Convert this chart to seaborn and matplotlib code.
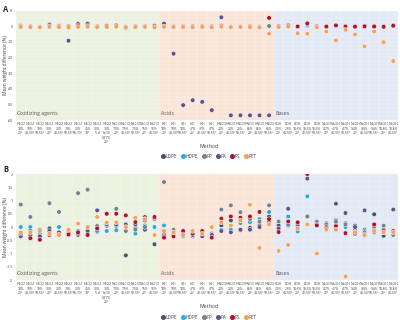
import numpy as np
import pandas as pd
import matplotlib
matplotlib.use('Agg')  # no display
import matplotlib.pyplot as plt
from matplotlib.lines import Line2D
import seaborn as sns

# --- methods (x categories) ---
methods = [
    "H2O2\n10%\n20°", "H2O2\n10%\n40-50°", "H2O2\n10%\n50-55°", "H2O2\n30%\n20°",
    "H2O2\n30%\n40-50°", "H2O2\n30%\n50-55°", "H2O2\n30%\n60-70°", "H2O2\n35%\n70°",
    "H2O2\n30%\n5 d", "H2O2\n30%\nFe(II)\n0.17%\n20°",
    "NaClO\n7.5%\n20°", "NaClO\n7.5%\n40-50°", "NaClO\n7.5%\n50-55°", "NaClO\n15%\n20°",
    "NaClO\n15%\n40-50°",
    "HCl\n10%\n20°", "HCl\n10%\n40-50°", "HCl\n10%\n50-55°", "HCl\n37%\n20°",
    "HCl\n37%\n40-50°", "HCl\n37%\n50-55°", "HNO3\n20%\n20°", "HNO3\n20%\n40-50°",
    "HNO3\n20%\n50-55°", "HNO3\n65%\n20°", "HNO3\n65%\n40-50°", "HNO3\n65%\n50-55°",
    "KOH\n2.5%\n20°", "KOH\n2.5%\n40-50°", "KOH\n10.6%\n20°", "KOH\n10.6%\n40-50°",
    "KOH\n10.6%\n50-55°", "NaOH\n4.7%\n20°", "NaOH\n4.7%\n40-50°", "NaOH\n4.7%\n50-55°",
    "NaOH\n9.4%\n20°", "NaOH\n9.4%\n40-50°", "NaOH\n9.4%\n50-55°", "NaOH\n18.8%\n20°",
    "NaOH\n18.8%\n40-50°",
]
group_names = ["Oxidizing agents", "Acids", "Bases"]
group_sizes = [15, 12, 13]
group_colors = ["#ebf1df", "#fae4d8", "#e2e9f4"]

polymers = ["LDPE", "HDPE", "PP", "PA", "PS", "PET"]
poly_colors = ["#44546a", "#2aa9dc", "#76828f", "#5f5290", "#b3102c", "#f4a25a"]

# --- panel A: mean weight difference (%) ---
a_ldpe = [-0.2, -0.3, -0.5, 0.2, -0.2, -0.4, 0.4, 0.3, -0.3, -0.1, 0.2, -1.2, -0.3, -0.2, -0.2,
          0.3, -0.3, -0.2, -0.3, -0.2, -0.3, 0.1, -0.4, -0.3, -0.2, -0.4, 0.0,
          -0.2, 0.3, -0.3, 0.5, -0.2, -0.3, 0.2, -0.2, -0.3, -0.2, -0.3, -0.3, 0.2]
a_hdpe = [-0.1, -0.2, -0.4, 0.1, -0.1, -0.3, 0.2, 0.2, -0.2, 0.0, 0.1, -0.5, -0.2, -0.1, -0.3,
          0.2, -0.2, -0.1, -0.2, -0.1, -0.2, 0.0, -0.3, -0.2, -0.1, -0.3, 0.2,
          -0.1, 0.2, -0.2, 0.3, -0.1, -0.2, 0.1, -0.1, -0.2, -0.1, -0.2, -0.2, 0.1]
a_pp = [-0.3, -0.3, -0.6, 0.3, -0.3, -0.5, 0.6, 0.5, -0.4, -0.2, 0.3, -0.6, -0.4, -0.3, -0.2,
        0.4, -0.4, -0.3, -0.4, -0.3, -0.4, 0.2, -0.5, -0.4, -0.3, -0.5, 0.1,
        -0.3, 0.4, -0.4, 0.6, -0.3, -0.4, 0.3, -0.3, -0.4, -0.3, -0.4, -0.4, 0.3]
a_pa = [0.3, -0.2, -0.5, 1.0, 0.2, -9.3, 1.5, 1.6, -0.2, 0.3, 0.6, -0.4, -0.2, 0.1, 0.3,
        1.6, -17.6, -50.5, -47.3, -48.4, -53.7, 5.7, -57.0, -57.0, -57.0, -57.0, -57.0,
        0.0, 0.6, -0.2, 1.2, 0.0, -0.3, 0.4, 0.1, -0.3, 0.2, 0.0, -0.2, 0.5]
a_ps = [-0.4, -0.3, -0.6, 0.0, -0.3, -0.2, 0.3, 0.2, -0.3, 0.1, 0.4, -0.8, -0.2, -0.4, -0.6,
        -0.2, -0.3, -0.1, -0.2, -0.1, -0.2, 0.3, -0.5, -0.4, -0.2, -0.6, 5.3,
        -0.1, 0.4, -0.2, 1.8, -0.3, -0.2, 0.5, -0.3, -0.3, -0.1, -0.2, -0.4, 0.3]
a_pet = [-0.5, -0.6, -0.7, -0.4, -0.6, -0.9, -0.5, -0.4, -0.6, -0.5, -0.3, -0.6, -0.6, -0.5, -0.7,
         -0.4, -0.6, -0.5, -0.7, -0.5, -0.7, -0.3, -0.6, -0.5, -0.6, -0.8, -4.8,
         -0.6, -0.3, -4.5, -4.8, -0.8, -3.4, -9.1, -2.3, -5.3, -12.9, -3.4, -10.2, -22.3]

# --- panel B: mean weight difference (%), zoomed ---
b_ldpe = [-0.3, -0.3, -0.3, -0.05, -0.25, -0.3, -0.3, -0.25, -0.18, 0.05, 0.05, -1.07, -0.04, -0.1, -0.65,
          -0.3, -0.2, -0.3, -0.35, -0.3, -0.25, 0.06, 0.25, -0.12, -0.03, 0.06, 0.4,
          0.06, 0.06, 0.15, 0.4, 0.2, 0.14, 0.25, 0.14, 0.05, -0.1, 0.48, -0.33, -0.2]
b_hdpe = [0.0, 0.0, -0.25, -0.2, 0.0, -0.15, -0.15, -0.05, -0.15, -0.15, -0.12, -0.1, -0.25, 0.06, 0.0,
          0.06, -0.3, -0.2, -0.3, -0.25, -0.3, -0.1, -0.1, 0.15, 0.18, 0.3, 0.57,
          -0.1, 0.4, -0.17, 1.16, 0.14, 0.03, 0.1, 0.0, -0.15, -0.15, -0.1, -0.2, -0.25]
b_pp = [0.85, 0.38, -0.1, 0.9, 0.57, -0.25, 1.28, 1.41, 0.04, 0.1, 0.69, -0.15, -0.1, 0.0, 0.3,
        1.7, -0.1, -0.35, -0.2, -0.2, -0.35, 0.66, 0.82, 0.56, 0.3, 0.2, 0.82,
        0.21, 0.1, 0.1, 0.4, 0.2, 0.1, 0.2, 0.1, -0.1, -0.2, 0.0, 0.05, -0.3]
b_pa = [-0.35, -0.15, -0.35, -0.15, -0.2, -0.2, -0.25, -0.15, 0.63, 0.1, 0.1, 0.1, 0.1, 0.38, 0.35,
        -0.2, -0.25, -0.25, -0.3, -0.35, -0.3, -0.15, -0.2, -0.1, -0.1, 0.0, 0.2,
        -0.05, 0.69, 0.05, 1.83, 0.1, 0.0, 0.88, 0.53, 0.0, 0.63, -0.2, -0.1, 0.66]
b_ps = [-0.25, -0.42, -0.48, -0.3, -0.3, -0.28, -0.2, -0.3, -0.05, 0.5, 0.5, 0.44, 0.19, 0.25, 0.38,
        -0.4, -0.35, -0.15, -0.25, -0.15, -0.4, 0.32, 0.4, 0.35, 0.4, 0.57, 0.3,
        -0.19, 0.21, 0.18, 2.0, 0.06, -0.05, 0.03, -0.23, -0.25, -0.31, 0.1, -0.15, -0.15]
b_pet = [-0.2, -0.2, -0.15, -0.25, -0.3, -0.1, 0.13, 0.0, 0.38, 0.17, 0.18, 0.0, 0.35, 0.3, -0.3,
         -0.15, -0.2, -0.3, -0.15, -0.25, 0.0, 0.18, 0.06, 0.25, 0.84, -0.79, 0.1,
         -0.9, -0.67, -0.05, 0.1, -1.0, -0.1, -0.1, -1.86, -0.2, -0.3, -0.15, -0.2, -0.2]

a_ticks = [10, 0, -10, -20, -30, -40, -50, -60]
b_ticks = [2, 1.5, 1, 0.5, 0, -0.5, -1, -1.5, -2]


def long_form(series):
    rows = []
    for name, vals in zip(polymers, series):
        for m, v in zip(methods, vals):
            rows.append((m, name, v))
    return pd.DataFrame(rows, columns=['Method', 'Polymer', 'Value'])


def draw_panel(ax, df, ticks, minor_step):
    ymin, ymax = min(ticks), max(ticks)
    start = 0
    for name, n, col in zip(group_names, group_sizes, group_colors):
        ax.axvspan(start - 0.5, start + n - 0.5, color=col, zorder=0, lw=0)
        ax.text(start - 0.35, ymin + (ymax - ymin) * 0.04, name, fontsize=3.8,
                color='#595959', ha='left', va='bottom', zorder=1)
        start += n
    # faint lattice over the coloured regions
    for x in np.arange(-0.5, len(methods), 1.0):
        ax.axvline(x, color='white', lw=0.3, alpha=0.6, zorder=0.5)
    for y in np.arange(ymin, ymax + 1e-9, minor_step):
        ax.axhline(y, color='white', lw=0.3, alpha=0.6, zorder=0.5)

    sns.stripplot(data=df, x='Method', y='Value', hue='Polymer', order=methods,
                  hue_order=polymers, palette=poly_colors, jitter=False, dodge=False,
                  size=3.3, linewidth=0.35, edgecolor='white', legend=False, ax=ax,
                  zorder=3)
    ax.set_xlim(-0.5, len(methods) - 0.5)
    ax.set_ylim(ymin, ymax)
    ax.set_yticks(ticks)
    ax.set_yticklabels([f"{t:g}" for t in ticks])
    ax.tick_params(axis='both', length=0, labelsize=2.4, colors='#404040', pad=1.5)
    ax.tick_params(axis='y', labelsize=2.6, pad=2)
    ax.set_xlabel('')
    ax.set_ylabel('')
    for s in ax.spines.values():
        s.set_visible(False)
    ax.grid(False)


sns.set_style('white')
plt.rcParams['font.family'] = ['Open Sans', 'DejaVu Sans']

fig = plt.figure(figsize=(4, 3.2), dpi=100)
axA = fig.add_axes([0.04, 0.625, 0.955, 0.342])
axB = fig.add_axes([0.04, 0.125, 0.955, 0.331])

draw_panel(axA, long_form([a_ldpe, a_hdpe, a_pp, a_pa, a_ps, a_pet]), a_ticks, 2.5)
draw_panel(axB, long_form([b_ldpe, b_hdpe, b_pp, b_pa, b_ps, b_pet]), b_ticks, 0.25)

handles = [Line2D([], [], marker='o', ls='', color=c, markersize=2.6) for c in poly_colors]
for ax, lab_y, leg_y, letter_y in [(axA, 0.541, 0.512, 0.985), (axB, 0.042, 0.009, 0.485)]:
    pos = ax.get_position()
    fig.text(0.008, (pos.y0 + pos.y1) / 2, 'Mean weight difference (%)', rotation=90,
             fontsize=3.4, color='#404040', ha='left', va='center')
    fig.text(0.522, lab_y, 'Method', fontsize=3.8, color='#404040', ha='center', va='center')
    fig.legend(handles, polymers, loc='center', bbox_to_anchor=(0.522, leg_y), ncol=6,
               fontsize=3.4, frameon=False, handletextpad=0.1, columnspacing=0.9,
               handlelength=0.8, labelcolor='#404040')
    fig.text(0.008, letter_y, 'A' if ax is axA else 'B', fontsize=5.5, fontweight='bold',
             ha='left', va='top')

fig.savefig('out.png', dpi=100)
plt.close(fig)
